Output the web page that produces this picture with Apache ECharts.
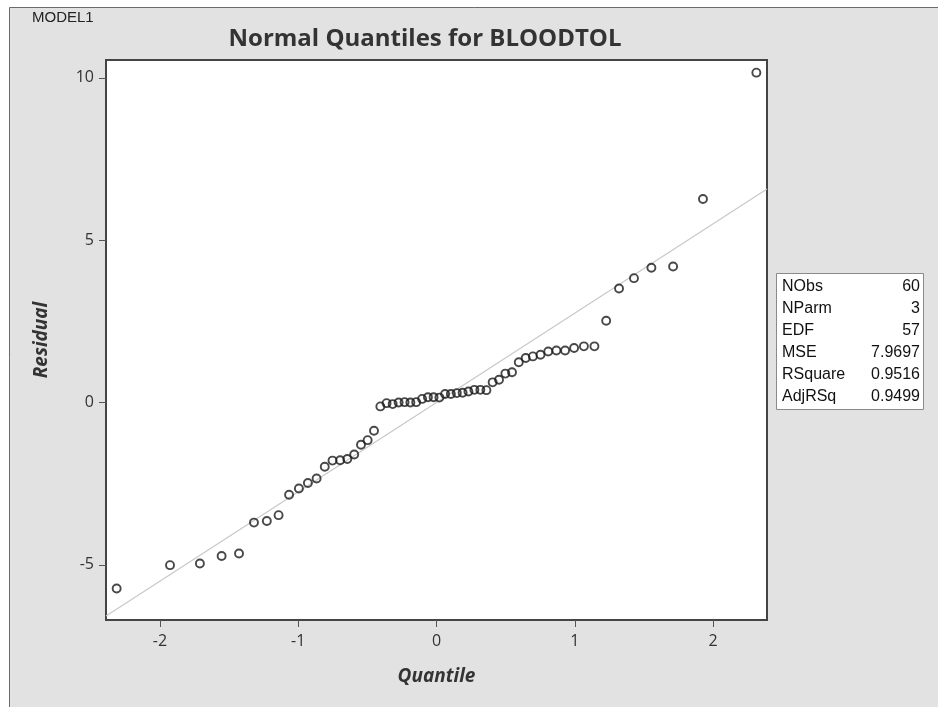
<!DOCTYPE html>
<html>
<head>
<meta charset="utf-8">
<script src="https://cdn.jsdelivr.net/npm/echarts@6/dist/echarts.min.js"></script>
<style>
  html, body { margin: 0; padding: 0; background: #ffffff; }
  #chart { width: 938px; height: 707px; }
</style>
</head>
<body>
<div id="chart"></div>
<script>
// Normal quantiles (Blom scores) for the 60 ordered residuals
const quantiles = [
  -2.313, -1.927, -1.711, -1.554, -1.428, -1.320, -1.227, -1.142, -1.066, -0.995,
  -0.930, -0.867, -0.808, -0.752, -0.697, -0.645, -0.595, -0.546, -0.498, -0.452,
  -0.406, -0.361, -0.317, -0.274, -0.231, -0.189, -0.147, -0.104, -0.062, -0.021,
   0.021,  0.062,  0.104,  0.147,  0.189,  0.231,  0.274,  0.317,  0.361,  0.406,
   0.452,  0.498,  0.546,  0.595,  0.645,  0.697,  0.752,  0.808,  0.867,  0.930,
   0.995,  1.066,  1.142,  1.227,  1.320,  1.428,  1.554,  1.711,  1.927,  2.313
];

// Ordered residuals of BLOODTOL from MODEL1
const residuals = [
  -5.73, -5.01, -4.96, -4.73, -4.65, -3.70, -3.65, -3.47, -2.84, -2.65,
  -2.48, -2.34, -1.98, -1.79, -1.78, -1.74, -1.60, -1.30, -1.16, -0.87,
  -0.12, -0.02, -0.05,  0.00,  0.01,  0.00,  0.01,  0.11,  0.16,  0.16,
   0.15,  0.26,  0.26,  0.29,  0.30,  0.34,  0.39,  0.39,  0.38,  0.62,
   0.70,  0.89,  0.93,  1.24,  1.37,  1.42,  1.47,  1.57,  1.60,  1.60,
   1.68,  1.73,  1.73,  2.52,  3.51,  3.83,  4.15,  4.19,  6.27, 10.16
];

// Reference line (mean 0, slope = residual standard deviation)
const refLine = [[-2.39, -6.58], [2.39, 6.58]];

const xTicks = [-2, -1, 0, 1, 2];
const yTicks = [-5, 0, 5, 10];

const statNames  = ['NObs', 'NParm', 'EDF', 'MSE', 'RSquare', 'AdjRSq'];
const statValues = ['60', '3', '57', '7.9697', '0.9516', '0.9499'];

const points = quantiles.map((q, i) => [q, residuals[i]]);

const chart = echarts.init(document.getElementById('chart'), null, { renderer: 'canvas' });

const statFont = '16px "Liberation Sans", Arial, sans-serif';
const statTexts = [];
statNames.forEach((name, i) => {
  statTexts.push({
    type: 'text', x: 6, y: 14 + i * 21.9,
    style: { text: name, fill: '#111', font: statFont, verticalAlign: 'middle', align: 'left' }
  });
  statTexts.push({
    type: 'text', x: 144, y: 14 + i * 21.9,
    style: { text: statValues[i], fill: '#111', font: statFont, verticalAlign: 'middle', align: 'right' }
  });
});

const tickFont = { fontFamily: 'Open Sans', fontSize: 16, color: '#333' };
const nameFont = { fontFamily: 'Open Sans', fontStyle: 'italic', fontWeight: 'bold', fontSize: 19, color: '#333' };

chart.setOption({
  backgroundColor: '#ffffff',
  animation: false,
  title: {
    text: 'Normal Quantiles for BLOODTOL',
    left: 420, top: 22, textAlign: 'center',
    textStyle: { fontFamily: 'Open Sans', fontWeight: 'bold', fontSize: 24, color: '#333' }
  },
  grid: {
    left: 106, top: 60, right: 171, bottom: 87,
    show: true, backgroundColor: '#ffffff', borderColor: '#444', borderWidth: 2
  },
  xAxis: {
    type: 'value', min: -2.39, max: 2.39,
    name: 'Quantile', nameLocation: 'middle', nameGap: 47,
    nameTextStyle: nameFont,
    splitLine: { show: false },
    axisLine: { onZero: false, lineStyle: { color: '#444', width: 2 } },
    axisTick: { show: true, length: 7, customValues: xTicks, lineStyle: { color: '#555', width: 1 } },
    axisLabel: Object.assign({ customValues: xTicks, margin: 13 }, tickFont)
  },
  yAxis: {
    type: 'value', min: -6.7, max: 10.55,
    name: 'Residual', nameLocation: 'middle', nameGap: 55,
    nameTextStyle: nameFont,
    splitLine: { show: false },
    axisLine: { onZero: false, lineStyle: { color: '#444', width: 2 } },
    axisTick: { show: true, length: 7, customValues: yTicks, lineStyle: { color: '#555', width: 1 } },
    axisLabel: Object.assign({ customValues: yTicks, margin: 12 }, tickFont)
  },
  series: [
    {
      type: 'line', data: refLine, symbol: 'none', silent: true, z: 2,
      lineStyle: { color: '#c8c8c8', width: 1.2 }
    },
    {
      type: 'scatter', data: points, symbol: 'circle', symbolSize: 8, z: 3,
      itemStyle: { color: 'rgba(0,0,0,0)', borderColor: '#1a1a1a', borderWidth: 1.9 }
    }
  ],
  graphic: [
    {
      type: 'rect', z: -100, silent: true,
      shape: { x: 9.5, y: 7.5, width: 940, height: 710 },
      style: { fill: '#e2e2e2', stroke: '#6a6a6a', lineWidth: 1 }
    },
    {
      type: 'text', left: 32, top: 10, z: 5,
      style: { text: 'MODEL1', fill: '#222', font: '15px "Liberation Sans", Arial, sans-serif' }
    },
    {
      type: 'group', left: 776, top: 273, z: 5,
      children: [
        { type: 'rect', shape: { x: 0.5, y: 0.5, width: 147, height: 136 }, style: { fill: '#ffffff', stroke: '#8a8a8a', lineWidth: 1 } }
      ].concat(statTexts)
    }
  ]
});
</script>
</body>
</html>
